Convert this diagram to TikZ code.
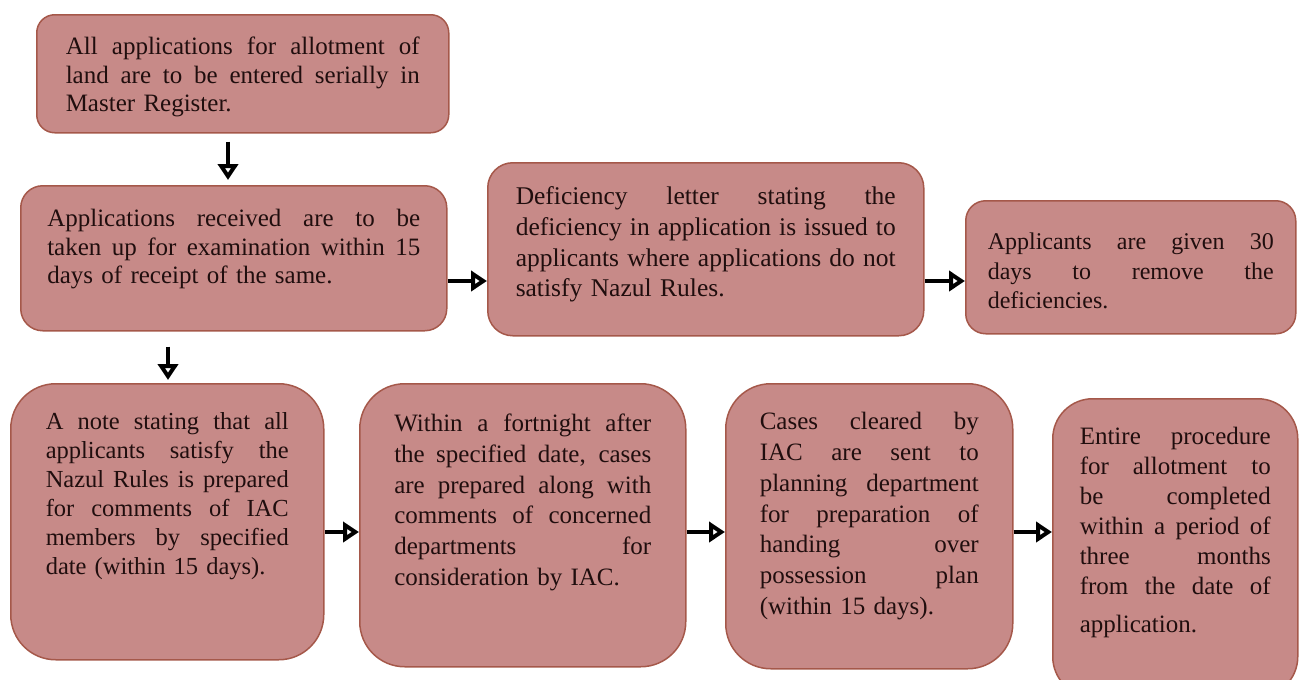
\documentclass[tikz,border=0pt]{standalone}
\usepackage{fontspec}
\setmainfont{Liberation Serif}
\usetikzlibrary{arrows.meta}
\definecolor{stagefill}{RGB}{199,138,136}
\definecolor{stageline}{RGB}{165,88,74}
\definecolor{stageink}{RGB}{32,14,14}
% one justified line of a box
\newcommand{\jl}[1]{\hbox to \hsize{\spaceskip=.25em plus 1fil\relax #1}}
\tikzset{
  stage/.style={draw=stageline, fill=stagefill, line width=1.5pt, anchor=north west,
    inner ysep=0pt, align=left, text=stageink},
  flow/.style={line width=4.5pt, -{Triangle[open, length=16pt, width=20pt, line width=4pt]}}
}
\begin{document}
\begin{tikzpicture}[x=1pt,y=-1pt]
\useasboundingbox (0,0) rectangle (1299,680);
\coordinate (rowone) at (0,281);
\coordinate (rowtwo) at (0,532);
\coordinate (colone) at (228,0);
\coordinate (coltwo) at (168,0);
% first row
\node[stage, text width=354pt, inner xsep=29pt, text height=40pt, text depth=78pt,
  rounded corners=18pt, font=\fontsize{25}{28.5}\selectfont] (A) at (36,14)
  {\jl{All applications for allotment of}
   \jl{land are to be entered serially in}
   Master Register.};
\node[stage, text width=373pt, inner xsep=26.5pt, text height=41pt, text depth=104pt,
  rounded corners=22pt, font=\fontsize{25}{28.5}\selectfont] (B) at (20,185)
  {\jl{Applications received are to be}
   \jl{taken up for examination within 15}
   days of receipt of the same.};
\node[stage, text width=380pt, inner xsep=28pt, text height=42pt, text depth=131pt,
  rounded corners=25pt, font=\fontsize{25.5}{30.7}\selectfont] (C) at (487,162)
  {\jl{Deficiency letter stating the}
   \jl{deficiency in application is issued to}
   \jl{applicants where applications do not}
   satisfy Nazul Rules.};
\node[stage, text width=286pt, inner xsep=22pt, text height=49pt, text depth=84pt,
  rounded corners=20pt, font=\fontsize{24}{29.5}\selectfont] (D) at (965,200)
  {\jl{Applicants are given 30}
   \jl{days to remove the}
   deficiencies.};
% second row
\node[stage, text width=243pt, inner xsep=35pt, text height=46pt, text depth=230pt,
  rounded corners=45pt, font=\fontsize{24.5}{29}\selectfont] (E) at (10,383)
  {\jl{A note stating that all}
   \jl{applicants satisfy the}
   \jl{Nazul Rules is prepared}
   \jl{for comments of IAC}
   \jl{members by specified}
   date (within 15 days).};
\node[stage, text width=257pt, inner xsep=34.5pt, text height=48pt, text depth=235pt,
  rounded corners=45pt, font=\fontsize{25}{30.7}\selectfont] (F) at (359,383)
  {\jl{Within a fortnight after}
   \jl{the specified date, cases}
   \jl{are prepared along with}
   \jl{comments of concerned}
   \jl{departments for}
   consideration by IAC.};
\node[stage, text width=219pt, inner xsep=34pt, text height=46pt, text depth=239pt,
  rounded corners=45pt, font=\fontsize{25}{30.8}\selectfont] (G) at (725,383)
  {\jl{Cases cleared by}
   \jl{IAC are sent to}
   \jl{planning department}
   \jl{for preparation of}
   \jl{handing over}
   \jl{possession plan}
   (within 15 days).};
\node[stage, text width=191pt, inner xsep=27pt, text height=46pt, text depth=252pt,
  rounded corners=40pt, font=\fontsize{25}{30}\selectfont] (H) at (1052,398)
  {\jl{Entire procedure}
   \jl{for allotment to}
   \jl{be completed}
   \jl{within a period of}
   \jl{three months}
   \jl{from the date of}\vskip 8pt
   application.};
% arrows
\draw[flow, shorten <=8pt, shorten >=5pt] (A.south -| colone) -- (B.north -| colone);
\draw[flow, shorten <=15pt, shorten >=3pt] (B.south -| coltwo) -- (E.north -| coltwo);
\draw[flow] (B.east |- rowone) -- (C.west |- rowone);
\draw[flow] (C.east |- rowone) -- (D.west |- rowone);
\draw[flow] (E.east |- rowtwo) -- (F.west |- rowtwo);
\draw[flow] (F.east |- rowtwo) -- (G.west |- rowtwo);
\draw[flow] (G.east |- rowtwo) -- (H.west |- rowtwo);
\end{tikzpicture}
\end{document}
